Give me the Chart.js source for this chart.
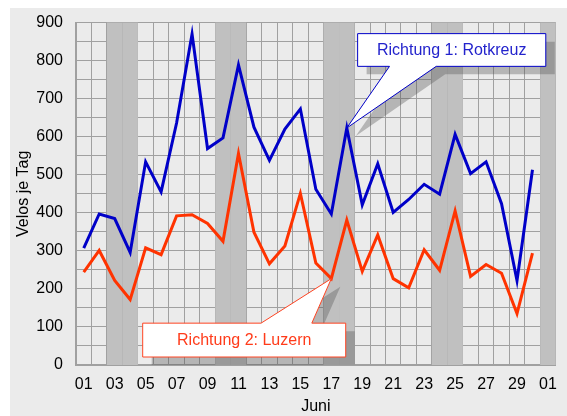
<!DOCTYPE html>
<html>
<head>
<meta charset="utf-8">
<script src="https://cdn.jsdelivr.net/npm/chart.js@4/dist/chart.umd.min.js"></script>
<style>
  body { margin: 0; background: #fff; }
  #wrap { width: 567px; height: 416px; }
</style>
</head>
<body>
<div id="wrap"><canvas id="velos"></canvas></div>
<script>
// Tage Juni 01..30 plus 01. Juli
const days = ['01','02','03','04','05','06','07','08','09','10','11','12','13','14','15',
              '16','17','18','19','20','21','22','23','24','25','26','27','28','29','30','01'];

// Richtung 1: Rotkreuz
const rotkreuz = [307, 397, 385, 296, 534, 455, 636, 870, 569, 597, 789, 625, 538, 620, 673,
                  462, 397, 623, 421, 529, 401, 435, 475, 449, 606, 503, 534, 424, 222, 513, null];
// Richtung 2: Luzern
const luzern = [244, 301, 222, 172, 308, 290, 392, 395, 372, 325, 556, 349, 266, 313, 451,
                268, 227, 381, 246, 342, 227, 203, 303, 249, 405, 233, 264, 241, 135, 294, null];

// grau hinterlegte Tage (Index in days)
const weekendDays = [2, 3, 9, 10, 16, 17, 23, 24, 30];

// Sprechblasen, Lage in Achseneinheiten (Tag-Index / Velos)
const callouts = [
  { text: 'Richtung 1: Rotkreuz', color: '#0000c8', textColor: '#2323cc', series: rotkreuz, tip: 17,
    x1: 17.7, x2: 29.86, y1: 871, y2: 785, baseL: 19.76, baseR: 22.78, side: 'bottom' },
  { text: 'Richtung 2: Luzern', color: '#ff4422', textColor: '#ff3b1a', series: luzern, tip: 16,
    x1: 3.81, x2: 16.93, y1: 110, y2: 21, baseL: 11.46, baseR: 14.74, side: 'top' }
];

const decor = {
  id: 'decor',
  beforeDraw(chart) {
    const ctx = chart.ctx;
    ctx.save();
    ctx.fillStyle = '#ebebeb';
    ctx.fillRect(10, 8, chart.width - 10, chart.height - 8);
    ctx.restore();
  },
  beforeDatasetsDraw(chart) {
    const { ctx, chartArea, scales: { x } } = chart;
    ctx.save();
    ctx.fillStyle = '#c0c0c0';
    weekendDays.forEach(i => {
      const l = x.getPixelForValue(i - 0.5);
      const r = x.getPixelForValue(i + 0.5);
      ctx.fillRect(l, chartArea.top, r - l, chartArea.bottom - chartArea.top);
    });
    ctx.restore();
  },
  afterDatasetsDraw(chart) {
    const { ctx, chartArea, scales: { x, y } } = chart;
    callouts.forEach(c => {
      const l = x.getPixelForValue(c.x1), r = x.getPixelForValue(c.x2);
      const t = y.getPixelForValue(c.y1), b = y.getPixelForValue(c.y2);
      const bl = x.getPixelForValue(c.baseL), br = x.getPixelForValue(c.baseR);
      const tx = x.getPixelForValue(c.tip), ty = y.getPixelForValue(c.series[c.tip]);
      const shape = (dx, dy) => {
        ctx.beginPath();
        if (c.side === 'bottom') {
          ctx.moveTo(l + dx, t + dy);
          ctx.lineTo(r + dx, t + dy);
          ctx.lineTo(r + dx, b + dy);
          ctx.lineTo(br + dx, b + dy);
          ctx.lineTo(tx + dx, ty + dy);
          ctx.lineTo(bl + dx, b + dy);
          ctx.lineTo(l + dx, b + dy);
        } else {
          ctx.moveTo(l + dx, t + dy);
          ctx.lineTo(bl + dx, t + dy);
          ctx.lineTo(tx + dx, ty + dy);
          ctx.lineTo(br + dx, t + dy);
          ctx.lineTo(r + dx, t + dy);
          ctx.lineTo(r + dx, b + dy);
          ctx.lineTo(l + dx, b + dy);
        }
        ctx.closePath();
      };
      // Schatten
      ctx.save();
      ctx.beginPath();
      ctx.rect(chartArea.left, chartArea.top, chartArea.right - chartArea.left, chartArea.bottom - chartArea.top);
      ctx.clip();
      shape(9, 8);
      ctx.fillStyle = 'rgba(80,80,80,0.35)';
      ctx.fill();
      ctx.restore();
      // Blase
      ctx.save();
      shape(0, 0);
      ctx.fillStyle = '#ffffff';
      ctx.fill();
      ctx.lineWidth = 1;
      ctx.strokeStyle = c.color;
      ctx.stroke();
      ctx.fillStyle = c.textColor;
      ctx.font = '16px "Liberation Sans", Arial, sans-serif';
      ctx.textAlign = 'center';
      ctx.textBaseline = 'middle';
      ctx.fillText(c.text, (l + r) / 2, (t + b) / 2 + 1);
      ctx.restore();
    });
  }
};

const font = { family: '"Liberation Sans", Arial, sans-serif', size: 16 };

new Chart(document.getElementById('velos'), {
  type: 'line',
  data: {
    labels: days,
    datasets: [
      { label: 'Richtung 1: Rotkreuz', data: rotkreuz, borderColor: '#0000c8', borderWidth: 3,
        pointRadius: 0, tension: 0, spanGaps: false },
      { label: 'Richtung 2: Luzern', data: luzern, borderColor: '#ff3300', borderWidth: 3,
        pointRadius: 0, tension: 0, spanGaps: false }
    ]
  },
  options: {
    responsive: true,
    maintainAspectRatio: false,
    animation: false,
    layout: { padding: { left: 10, top: 21, right: 9, bottom: 0 } },
    plugins: { legend: { display: false }, tooltip: { enabled: false } },
    scales: {
      x: {
        offset: true,
        grid: { offset: true, color: '#a0a0a0', drawTicks: false, z: -1 },
        border: { color: '#a0a0a0', width: 2 },
        ticks: {
          autoSkip: false, maxRotation: 0, padding: 10, color: '#000', font,
          callback: (v, i) => (i % 2 === 0 ? days[i] : '')
        },
        title: { display: true, text: 'Juni', color: '#000', font, padding: { top: 0, bottom: 0 } },
        afterFit: s => { s.height = 51; }
      },
      y: {
        min: 0, max: 900,
        grid: { color: '#a0a0a0', drawTicks: false, z: -1 },
        border: { color: '#a0a0a0', width: 2 },
        ticks: {
          stepSize: 50, maxTicksLimit: 20, autoSkip: false, padding: 13, color: '#000', font,
          callback: v => (v % 100 === 0 ? v : '')
        },
        title: { display: true, text: 'Velos je Tag', color: '#000', font, padding: { top: 4, bottom: 0 } },
        afterFit: s => { s.width = 66; }
      }
    }
  },
  plugins: [decor]
});
</script>
</body>
</html>
